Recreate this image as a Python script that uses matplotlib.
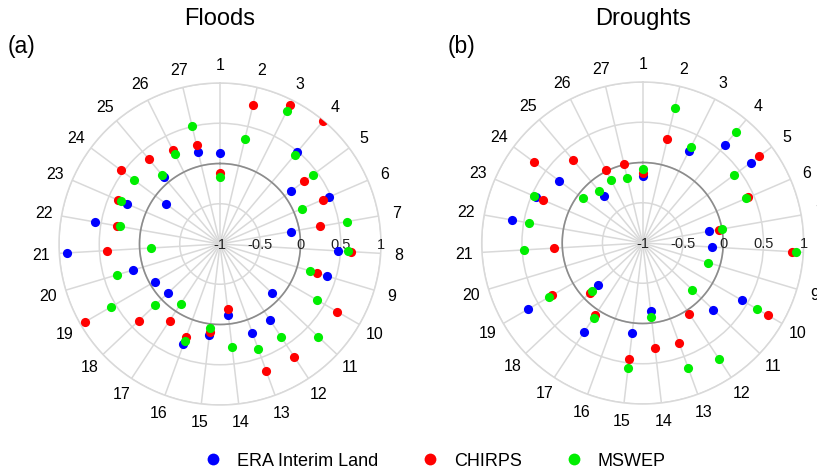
import numpy as np
import matplotlib.pyplot as plt

plt.rcParams['font.family'] = ['Liberation Sans', 'DejaVu Sans']

nan = np.nan
spokes = list(range(1, 28))
r_ticks = [-1, -0.5, 0, 0.5, 1]
r_tick_labels = ['-1', '-0.5', '0', '0.5', '1']

floods_era = [0.126, nan, nan, 0.489, 0.096, 0.481, -0.106, 0.467, 0.381, nan,
              -0.118, 0.136, 0.172, -0.108, 0.139, 0.328, nan, -0.115, -0.066,
              0.128, 0.907, 0.576, 0.255, -0.164, 0.079, nan, 0.170]
floods_chirps = [-0.118, 0.780, 0.928, 0.988, 0.306, 0.394, 0.267, 0.630, 0.255,
                 0.680, nan, 0.677, 0.674, -0.187, 0.105, 0.235, 0.138, 0.391,
                 0.938, nan, 0.405, 0.298, 0.385, 0.531, 0.380, 0.310, 0.263]
floods_mswep = [-0.168, 0.340, 0.852, 0.441, 0.433, 0.105, 0.608, 0.597, 0.168,
                0.387, 0.678, 0.383, 0.386, 0.284, 0.055, 0.283, -0.114, 0.105,
                0.561, 0.337, -0.138, 0.256, 0.337, 0.330, 0.127, 0.254, 0.511]

droughts_era = [-0.169, nan, 0.283, 0.590, 0.671, nan, -0.165, -0.139, nan, 0.420,
                0.207, nan, nan, -0.148, 0.120, nan, 0.318, -0.231, 0.640, nan,
                nan, 0.649, 0.440, 0.299, -0.243, nan, nan]
droughts_chirps = [-0.132, 0.324, nan, nan, 0.800, 0.431, -0.043, 0.863, nan,
                   0.796, nan, 0.049, 0.316, 0.318, 0.457, nan, 0.070, -0.094,
                   0.301, nan, 0.101, nan, 0.353, 0.680, 0.346, 0.013, 0.003]
droughts_mswep = [-0.078, 0.729, 0.329, 0.801, 0.420, 0.398, -0.001, 0.904, -0.153,
                  0.635, -0.155, 0.732, 0.647, -0.069, 0.569, nan, 0.110, -0.132,
                  0.346, nan, 0.473, 0.435, 0.468, -0.072, -0.159, -0.118, -0.175]

series_names = ['ERA Interim Land', 'CHIRPS', 'MSWEP']
series_colors = ['#0000ff', '#ff0000', '#00ee00']

W, H = 817, 477
fig = plt.figure(figsize=(W / 100, H / 100), dpi=100)

theta = np.deg2rad((np.array(spokes) - 1) * 360.0 / len(spokes))
R = 161


def make_ax(cx, cy, title, data):
    ax = fig.add_axes([(cx - R) / W, (H - cy - R) / H, 2 * R / W, 2 * R / H],
                      projection='polar')
    ax.set_theta_zero_location('N')
    ax.set_theta_direction(-1)
    ax.set_ylim(-1, 1)
    ax.set_xticks(theta)
    ax.set_xticklabels([])
    ax.set_yticks(r_ticks)
    ax.set_yticklabels([])
    ax.grid(True, color='#d9d9d9', lw=1.1)
    ax.spines['polar'].set_color('#d9d9d9')
    ax.spines['polar'].set_linewidth(1.1)
    ax.tick_params(length=0)
    tt = np.linspace(0, 2 * np.pi, 361)
    ax.plot(tt, np.zeros_like(tt), color='#8c8c8c', lw=1.2, zorder=2)
    for t, s in zip(theta, spokes):
        ax.text(t, 1.225, str(s), ha='center', va='center', fontsize=11.5)
    for v, lab in zip(r_ticks, r_tick_labels):
        ax.text(np.pi / 2, v, lab, ha='center', va='center', fontsize=10.5,
                color='#222222', zorder=3)
    for vals, col in zip(data, series_colors):
        ax.plot(theta, vals, 'o', color=col, ms=6.6, mec='none', ls='none',
                zorder=4)
    fig.text(cx / W, 1 - 19 / H, title, ha='center', va='center', fontsize=17)
    return ax


make_ax(220, 245, 'Floods', [floods_era, floods_chirps, floods_mswep])
make_ax(642.7, 244, 'Droughts', [droughts_era, droughts_chirps, droughts_mswep])

fig.text(8 / W, 1 - 47 / H, '(a)', ha='left', va='center', fontsize=16.5)
fig.text(448 / W, 1 - 47 / H, '(b)', ha='left', va='center', fontsize=16.5)

handles = [plt.Line2D([], [], marker='o', ls='none', color=c, mec='none', ms=8.5)
           for c in series_colors]
fig.legend(handles, series_names, loc='center', ncol=3, frameon=False,
           bbox_to_anchor=(435 / W, 1 - 462 / H), fontsize=13, handlelength=1,
           handletextpad=0.8, columnspacing=2.4, borderaxespad=0)

fig.savefig('out.png', dpi=100)
